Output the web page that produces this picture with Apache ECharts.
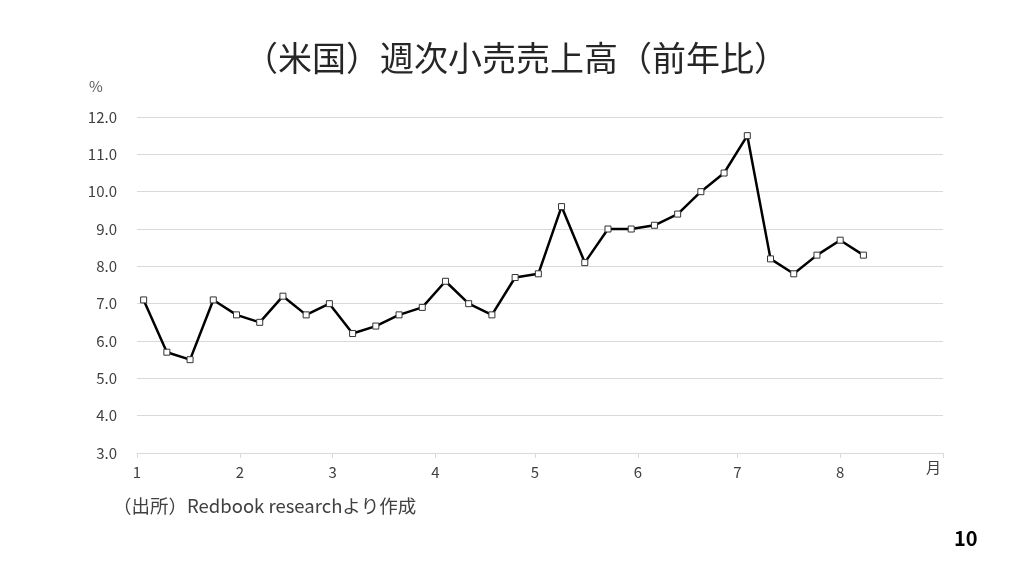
<!DOCTYPE html>
<html>
<head>
<meta charset="utf-8">
<script src="https://cdn.jsdelivr.net/npm/echarts@6/dist/echarts.min.js"></script>
<style>
html,body{margin:0;padding:0;background:#fff;}
#chart{width:1032px;height:582px;}
</style>
</head>
<body>
<div id="chart"></div>
<script>
// Weekly dates (month/day) and year-over-year values (%)
var weekDates = ['1/3','1/10','1/17','1/24','1/31','2/7','2/14','2/21','2/28','3/7','3/14','3/21','3/28','4/4','4/11','4/18','4/25','5/2','5/9','5/16','5/23','5/30','6/6','6/13','6/20','6/27','7/4','7/11','7/18','7/25','8/1','8/8'];
var yoyValues = [7.1,5.7,5.5,7.1,6.7,6.5,7.2,6.7,7.0,6.2,6.4,6.7,6.9,7.6,7.0,6.7,7.7,7.8,9.6,8.1,9.0,9.0,9.1,9.4,10.0,10.5,11.5,8.2,7.8,8.3,8.7,8.3];
var monthLabels = ['1','2','3','4','5','6','7','8'];
var monthDays = [31,28,31,30,31,30,31,31];

var monthStart = [0];
for (var i = 0; i < monthDays.length; i++) monthStart.push(monthStart[i] + monthDays[i]);
function dayOfYear(s) {
  var p = s.split('/');
  return monthStart[+p[0] - 1] + (+p[1]) - 1;
}
var seriesData = weekDates.map(function (d, i) { return [dayOfYear(d), yoyValues[i]]; });
var labelValues = monthStart.slice(0, monthLabels.length);

var chart = echarts.init(document.getElementById('chart'));
var font = '"Noto Sans CJK JP", "Noto Sans", sans-serif';
chart.setOption({
  backgroundColor: '#fff',
  animation: false,
  title: {
    text: '（米国）週次小売売上高（前年比）',
    left: 'center',
    top: 36,
    textStyle: { fontFamily: font, fontSize: 34, fontWeight: 'normal', color: '#262626' }
  },
  grid: { left: 137, right: 89, top: 117, bottom: 129 },
  xAxis: {
    type: 'value',
    min: 0,
    max: monthStart[8],
    axisLine: { show: true, lineStyle: { color: '#d9d9d9', width: 1 } },
    axisTick: { show: true, length: 5, lineStyle: { color: '#d9d9d9' }, customValues: monthStart.slice(0, 9) },
    splitLine: { show: false },
    axisLabel: {
      customValues: labelValues,
      margin: 12,
      color: '#404040',
      fontSize: 15,
      fontFamily: font,
      formatter: function (v) {
        var idx = labelValues.indexOf(v);
        return idx >= 0 ? monthLabels[idx] : '';
      }
    }
  },
  yAxis: {
    type: 'value',
    min: 3,
    max: 12,
    interval: 1,
    axisLine: { show: false },
    axisTick: { show: false },
    splitLine: { lineStyle: { color: '#d9d9d9', width: 1 } },
    axisLabel: {
      margin: 20,
      color: '#404040',
      fontSize: 15,
      fontFamily: font,
      formatter: function (v) { return v.toFixed(1); }
    }
  },
  graphic: [
    { type: 'text', left: 89, top: 79, style: { text: '%', fill: '#595959', fontSize: 15, fontFamily: font } },
    { type: 'text', left: 926, top: 460, style: { text: '月', fill: '#404040', fontSize: 15, fontFamily: font } },
    { type: 'text', left: 113, top: 497, style: { text: '（出所）Redbook researchより作成', fill: '#404040', fontSize: 18.5, fontFamily: font } },
    { type: 'text', left: 954, top: 528, style: { text: '10', fill: '#000', fontSize: 20, fontWeight: 'bold', fontFamily: font } }
  ],
  series: [{
    type: 'line',
    data: seriesData,
    symbol: 'rect',
    symbolSize: 6,
    showAllSymbol: true,
    lineStyle: { color: '#000', width: 2.5 },
    itemStyle: { color: '#fff', borderColor: '#333', borderWidth: 1 }
  }]
});
</script>
</body>
</html>
